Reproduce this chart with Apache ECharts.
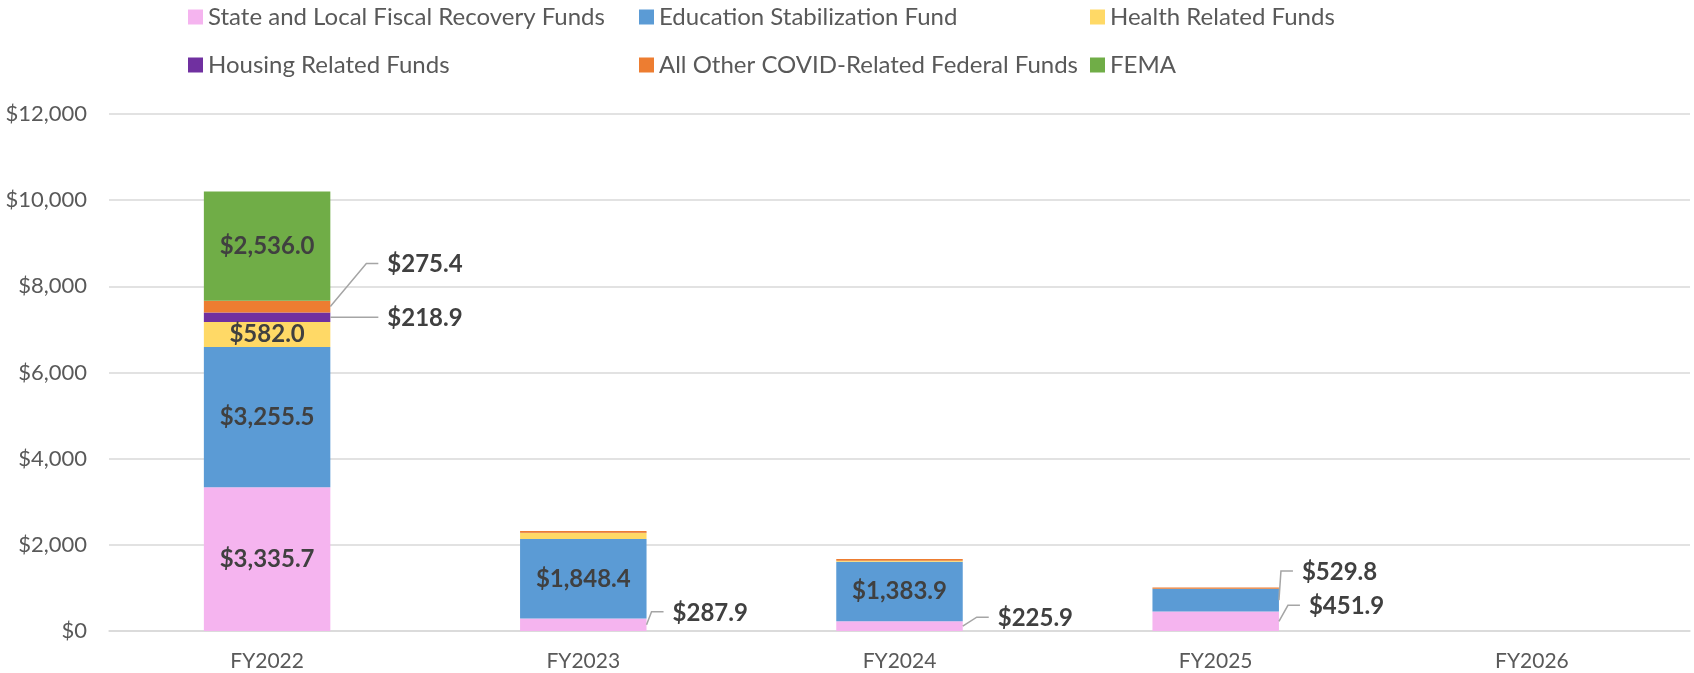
<!DOCTYPE html>
<html>
<head>
<meta charset="utf-8">
<script src="https://cdn.jsdelivr.net/npm/echarts@6/dist/echarts.min.js"></script>
<style>
  html, body { margin: 0; padding: 0; background: #fff; }
  #chart { width: 1694px; height: 673px; }
</style>
</head>
<body>
<div id="chart"></div>
<script>
// values in $ millions
const categories = ['FY2022', 'FY2023', 'FY2024', 'FY2025', 'FY2026']
const slfrf = [3335.7, 287.9, 225.9, 451.9, 0]
const esf = [3255.5, 1848.4, 1383.9, 529.8, 0]
const health = [582.0, 140.0, 20.0, 0, 0]
const housing = [218.9, 2.0, 0, 0, 0]
const otherFunds = [275.4, 40.0, 40.0, 30.0, 0]
const fema = [2536.0, 0, 0, 0, 0]

const seriesNames = [
  'State and Local Fiscal Recovery Funds',
  'Education Stabilization Fund',
  'Health Related Funds',
  'Housing Related Funds',
  'All Other COVID-Related Federal Funds',
  'FEMA'
]
const seriesValues = [slfrf, esf, health, housing, otherFunds, fema]
const seriesColors = ['#f5b4ef', '#5b9bd5', '#ffd966', '#7030a0', '#ed7d31', '#70ad47']

// which cells carry a label: inside the bar, or pulled out with a leader line
const insideLabels = { 0: [0], 1: [0, 1, 2], 2: [0], 5: [0] }
const calloutOffsets = {
  '4-0': [52, -42],
  '3-0': [52, 1],
  '0-1': [21, -12],
  '0-2': [30, -8],
  '1-3': [18, -28],
  '0-3': [25, -15]
}

const FONT = 'Lato, "Open Sans", sans-serif'
const TEXT_GREY = '#595959'
const LABEL_DARK = '#404040'
const BAR_RATIO = 0.4
const LABEL_DIST = 5

const money = (v) => '$' + v.toLocaleString('en-US', { minimumFractionDigits: 1, maximumFractionDigits: 1 })

function buildData(values, sIdx) {
  return values.map((v, cIdx) => {
    const key = sIdx + '-' + cIdx
    if (calloutOffsets[key]) {
      return {
        value: v,
        label: { show: true, position: 'right', distance: LABEL_DIST, offset: calloutOffsets[key] }
      }
    }
    if ((insideLabels[sIdx] || []).includes(cIdx)) {
      return { value: v, label: { show: true, position: 'inside' } }
    }
    return v
  })
}

const chart = echarts.init(document.getElementById('chart'))

const legendCols = [[0, 3], [1, 4], [2, 5]]
const legendLeft = [188, 639, 1090]

chart.setOption({
  animation: false,
  textStyle: { fontFamily: FONT },
  legend: legendCols.map((col, i) => ({
    orient: 'vertical',
    left: legendLeft[i],
    top: 5,
    padding: 0,
    itemWidth: 15,
    itemHeight: 15,
    itemGap: 24,
    icon: 'rect',
    selectedMode: false,
    data: col.map((k) => seriesNames[k]),
    textStyle: {
      fontFamily: FONT,
      fontSize: 24,
      lineHeight: 22,
      color: TEXT_GREY
    }
  })),
  grid: { left: 109, right: 4, top: 114, bottom: 42 },
  xAxis: {
    type: 'category',
    data: categories,
    axisLine: { lineStyle: { color: '#d9d9d9', width: 1.5 } },
    axisTick: { show: false },
    axisLabel: { color: TEXT_GREY, fontSize: 21, fontFamily: FONT, margin: 20 }
  },
  yAxis: {
    type: 'value',
    min: 0,
    max: 12000,
    interval: 2000,
    axisLine: { show: false },
    axisTick: { show: false },
    splitLine: { lineStyle: { color: '#d9d9d9', width: 1.5 } },
    axisLabel: {
      color: TEXT_GREY,
      fontSize: 22,
      fontFamily: FONT,
      margin: 22,
      formatter: (v) => '$' + v.toLocaleString('en-US')
    }
  },
  series: seriesNames.map((name, sIdx) => ({
    name,
    type: 'bar',
    stack: 'total',
    barWidth: BAR_RATIO * 100 + '%',
    itemStyle: { color: seriesColors[sIdx] },
    label: {
      show: false,
      formatter: (p) => money(p.value),
      fontFamily: FONT,
      fontSize: 24,
      fontWeight: 'bold',
      color: LABEL_DARK
    },
    data: buildData(seriesValues[sIdx], sIdx)
  }))
})

// leader lines for the pulled-out labels, placed through the chart's own scales
function leaderLines() {
  const xPx = (i) => chart.convertToPixel({ xAxisIndex: 0 }, i)
  const yPx = (v) => chart.convertToPixel({ yAxisIndex: 0 }, v)
  const halfBar = (xPx(1) - xPx(0)) * BAR_RATIO / 2

  return Object.keys(calloutOffsets).map((key) => {
    const [s, c] = key.split('-').map(Number)
    const below = seriesValues.slice(0, s).reduce((sum, arr) => sum + arr[c], 0)
    const v = seriesValues[s][c]
    const barRight = xPx(c) + halfBar
    const segMid = yPx(below + v / 2)
    const [dx, dy] = calloutOffsets[key]
    const textLeft = barRight + LABEL_DIST + dx
    const lineY = segMid + dy - 1
    return {
      type: 'polyline',
      z: 10,
      shape: { points: [[barRight, segMid], [textLeft - 21, lineY], [textLeft - 9, lineY]] },
      style: { stroke: '#a5a5a5', lineWidth: 1.5, fill: null }
    }
  })
}

chart.setOption({ graphic: leaderLines() })
</script>
</body>
</html>
